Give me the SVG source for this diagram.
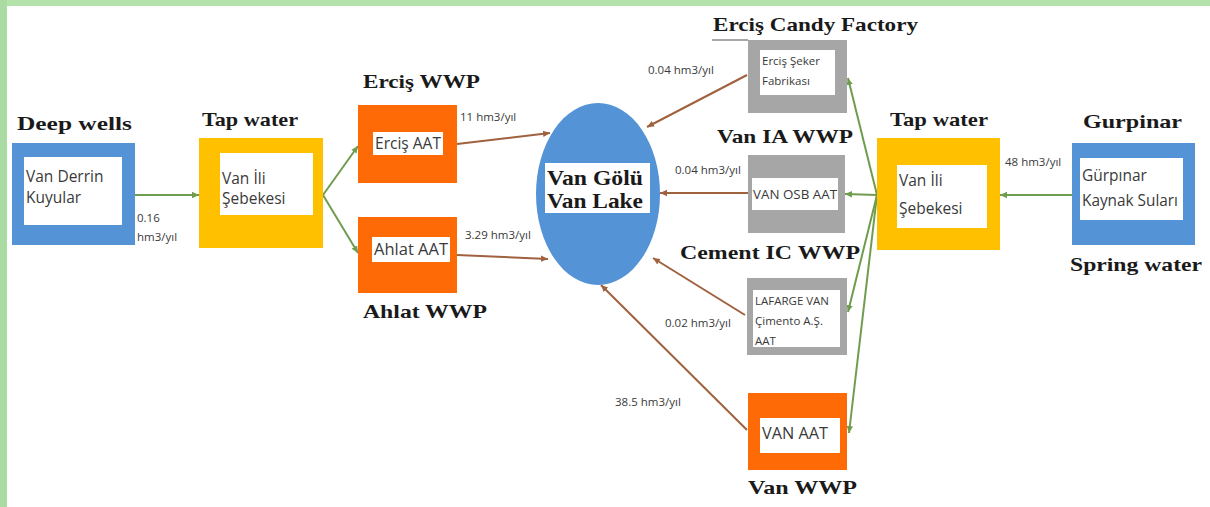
<svg xmlns="http://www.w3.org/2000/svg" width="1210" height="507" viewBox="0 0 1210 507">
<style>
.lbl{font-family:"Liberation Serif",serif;font-weight:bold;font-size:19px;fill:#1a1a1a}
.lake{font-family:"Liberation Serif",serif;font-weight:bold;font-size:22px;fill:#1a1a1a}
.t{font-family:"Open Sans","Liberation Sans",sans-serif;font-size:15.5px;fill:#3a3a3a}
.s{font-family:"Open Sans","Liberation Sans",sans-serif;font-size:11.5px;fill:#3a3a3a}
.n{font-family:"Open Sans","Liberation Sans",sans-serif;font-size:11.5px;fill:#3a3a3a}
.m{font-family:"Open Sans","Liberation Sans",sans-serif;font-size:13px;fill:#3a3a3a}
.in{fill:#ffffff}
.blue{fill:#5393d6}
.yel{fill:#ffc000}
.org{fill:#fd6a06}
.gry{fill:#a6a6a6}
.g{stroke:#6f9c4e;stroke-width:2;fill:none;marker-end:url(#ag)}
.b{stroke:#a0623e;stroke-width:2;fill:none;marker-end:url(#ab)}
</style>
<defs>
<marker id="ag" markerUnits="userSpaceOnUse" markerWidth="8" markerHeight="8" refX="7" refY="4" orient="auto"><path d="M0,0.8 L7,4 L0,7.2 Z" fill="#6f9c4e"/></marker>
<marker id="ab" markerUnits="userSpaceOnUse" markerWidth="8" markerHeight="8" refX="7" refY="4" orient="auto"><path d="M0,0.8 L7,4 L0,7.2 Z" fill="#a0623e"/></marker>
</defs>
<rect x="0" y="0" width="1210" height="507" fill="#ffffff"/>
<rect x="0" y="0" width="1210" height="6" fill="#b3e3ab"/>
<rect x="0" y="0" width="7" height="507" fill="#aadba2"/>

<g id="connectors">
<line class="g" x1="135" y1="195" x2="199" y2="195"/>
<line class="g" x1="323" y1="195" x2="358" y2="146"/>
<line class="g" x1="323" y1="195" x2="358" y2="253"/>
<line class="g" x1="1072" y1="195" x2="1000" y2="195"/>
<line class="g" x1="877" y1="195" x2="848" y2="78"/>
<line class="g" x1="877" y1="195" x2="845" y2="194"/>
<line class="g" x1="877" y1="195" x2="848" y2="312"/>
<line class="g" x1="877" y1="195" x2="849" y2="433"/>
<line class="b" x1="457" y1="144" x2="550" y2="133"/>
<line class="b" x1="457" y1="255" x2="548" y2="259"/>
<line class="b" x1="747" y1="75" x2="647" y2="127"/>
<line class="b" x1="748" y1="193" x2="660" y2="193"/>
<line class="b" x1="745" y1="315" x2="653" y2="258"/>
<line class="b" x1="747" y1="430" x2="601" y2="285"/>
<text class="s" x="137" y="222">0.16</text>
<text class="s" x="137" y="241">hm3/yıl</text>
<text class="s" x="460" y="121">11 hm3/yıl</text>
<text class="s" x="465" y="239">3.29 hm3/yıl</text>
<text class="s" x="648" y="74">0.04 hm3/yıl</text>
<text class="s" x="675" y="174">0.04 hm3/yıl</text>
<text class="s" x="665" y="327">0.02 hm3/yıl</text>
<text class="s" x="615" y="406">38.5 hm3/yıl</text>
<text class="s" x="1005" y="166">48 hm3/yıl</text>
</g>

<g id="deep-wells">
<rect class="blue" x="12" y="143" width="123" height="102"/>
<rect class="in" x="24" y="157" width="98" height="68"/>
<text class="t" x="26" y="182">Van Derrin</text>
<text class="t" x="26" y="203">Kuyular</text>
<text class="lbl" x="17" y="130" textLength="115" lengthAdjust="spacingAndGlyphs">Deep wells</text>
</g>

<g id="tap-water-left">
<rect class="yel" x="199" y="138" width="124" height="110"/>
<rect class="in" x="220" y="153" width="93" height="62"/>
<text class="t" x="222" y="184">Van İli</text>
<text class="t" x="222" y="204">Şebekesi</text>
<text class="lbl" x="202" y="126" textLength="96" lengthAdjust="spacingAndGlyphs">Tap water</text>
</g>

<g id="ercis-wwp">
<rect class="org" x="358" y="105" width="99" height="78"/>
<rect class="in" x="373" y="132" width="70" height="23"/>
<text class="t" x="408" y="149" text-anchor="middle" textLength="66" lengthAdjust="spacingAndGlyphs">Erciş AAT</text>
<text class="lbl" x="363" y="88" textLength="117" lengthAdjust="spacingAndGlyphs">Erciş WWP</text>
</g>

<g id="ahlat-wwp">
<rect class="org" x="358" y="217" width="99" height="76"/>
<rect class="in" x="372" y="237" width="78" height="25"/>
<text class="t" x="411" y="255" text-anchor="middle" textLength="74" lengthAdjust="spacingAndGlyphs">Ahlat AAT</text>
<text class="lbl" x="363" y="318" textLength="124" lengthAdjust="spacingAndGlyphs">Ahlat WWP</text>
</g>

<g id="van-lake">
<ellipse cx="598" cy="194" rx="62" ry="91" fill="#5393d6"/>
<rect class="in" x="545" y="163" width="105" height="50"/>
<text class="lake" x="547" y="185" textLength="96" lengthAdjust="spacingAndGlyphs">Van Gölü</text>
<text class="lake" x="547" y="208" textLength="96" lengthAdjust="spacingAndGlyphs">Van Lake</text>
</g>

<g id="ercis-candy-factory">
<line x1="712" y1="40" x2="748" y2="40" stroke="#8a8a8a" stroke-width="1.5"/>
<rect class="gry" x="748" y="40" width="99" height="73"/>
<rect class="in" x="760" y="50" width="75" height="45"/>
<text class="n" x="762" y="65">Erciş Şeker</text>
<text class="n" x="762" y="85">Fabrikası</text>
<text class="lbl" x="713" y="31" textLength="205" lengthAdjust="spacingAndGlyphs">Erciş Candy Factory</text>
</g>

<g id="van-ia-wwp">
<rect class="gry" x="748" y="155" width="97" height="78"/>
<rect class="in" x="752" y="178" width="86" height="32"/>
<text class="m" x="795" y="199" text-anchor="middle" textLength="84" lengthAdjust="spacingAndGlyphs">VAN OSB AAT</text>
<text class="lbl" x="717" y="143" textLength="136" lengthAdjust="spacingAndGlyphs">Van IA WWP</text>
</g>

<g id="cement-ic-wwp">
<rect class="gry" x="747" y="278" width="100" height="77"/>
<rect class="in" x="753" y="290" width="87" height="57"/>
<text class="n" x="755" y="305" textLength="74" lengthAdjust="spacingAndGlyphs">LAFARGE VAN</text>
<text class="n" x="755" y="325">Çimento A.Ş.</text>
<text class="n" x="755" y="345">AAT</text>
<text class="lbl" x="680" y="259" textLength="180" lengthAdjust="spacingAndGlyphs">Cement IC WWP</text>
</g>

<g id="van-wwp">
<rect class="org" x="748" y="393" width="99" height="77"/>
<rect class="in" x="760" y="418" width="80" height="35"/>
<text class="t" x="795" y="439" text-anchor="middle" textLength="66" lengthAdjust="spacingAndGlyphs">VAN AAT</text>
<text class="lbl" x="748" y="494" textLength="109" lengthAdjust="spacingAndGlyphs">Van WWP</text>
</g>

<g id="tap-water-right">
<rect class="yel" x="877" y="138" width="123" height="112"/>
<rect class="in" x="897" y="165" width="90" height="63"/>
<text class="t" x="899" y="186">Van İli</text>
<text class="t" x="899" y="214">Şebekesi</text>
<text class="lbl" x="890" y="126" textLength="98" lengthAdjust="spacingAndGlyphs">Tap water</text>
</g>

<g id="gurpinar">
<rect class="blue" x="1072" y="143" width="123" height="102"/>
<rect class="in" x="1080" y="158" width="103" height="62"/>
<text class="t" x="1082" y="181">Gürpınar</text>
<text class="t" x="1082" y="206" textLength="96" lengthAdjust="spacingAndGlyphs">Kaynak Suları</text>
<text class="lbl" x="1083" y="128" textLength="99" lengthAdjust="spacingAndGlyphs">Gurpinar</text>
<text class="lbl" x="1070" y="271" textLength="132" lengthAdjust="spacingAndGlyphs">Spring water</text>
</g>
</svg>
